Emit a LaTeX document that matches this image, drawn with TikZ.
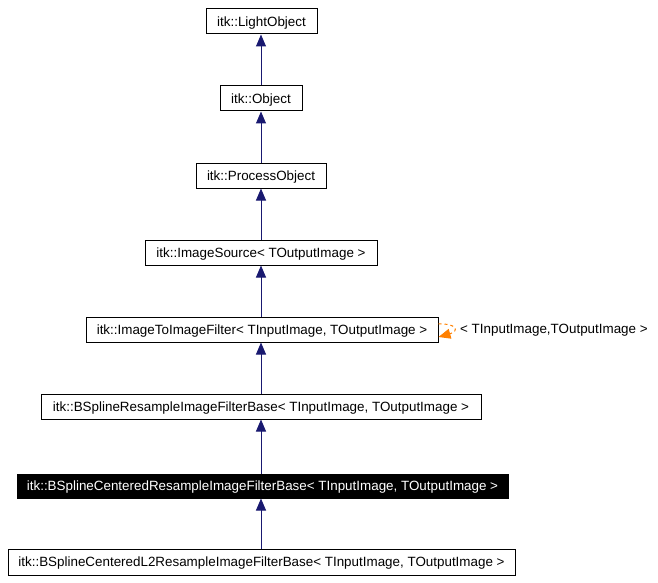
\documentclass[tikz,border=0pt]{standalone}
\usepackage{fontspec}
\setmainfont{Liberation Sans}
\usetikzlibrary{arrows.meta}
\begin{document}
\begin{tikzpicture}[x=1pt,y=-1pt,
  cls/.style={draw=black,fill=white,line width=1pt,inner sep=0pt,text height=9.6pt,text depth=0pt,font=\fontsize{13.4}{15}\selectfont,anchor=center},
  cur/.style={cls,fill=black,text=white},
  inh/.style={draw={rgb,255:red,25;green,25;blue,112},line width=1pt,-{Triangle[length=12pt,width=10pt,fill={rgb,255:red,25;green,25;blue,112}]}},
  tmpl/.style={draw=orange,dashed,line width=1pt,-{Triangle[length=12pt,width=10pt,fill=orange]}}]
\useasboundingbox (0,0) rectangle (658,583);
\node[cls,minimum width=111pt,minimum height=25pt] (lo) at (261.5,21.5) {itk::LightObject};
\node[cls,minimum width=82pt,minimum height=25pt] (ob) at (261,98.5) {itk::Object};
\node[cls,minimum width=130pt,minimum height=25pt] (po) at (261,175.5) {itk::ProcessObject};
\node[cls,minimum width=232pt,minimum height=25pt] (is) at (261,252.5) {itk::ImageSource< TOutputImage >};
\node[cls,minimum width=352pt,minimum height=25pt] (itf) at (262,329.5) {itk::ImageToImageFilter< TInputImage, TOutputImage >};
\node[cls,minimum width=440pt,minimum height=25pt] (bsr) at (261,406.5) {itk::BSplineResampleImageFilterBase< TInputImage, TOutputImage >};
\node[cur,minimum width=491pt,minimum height=24pt] (bsc) at (262.5,486) {itk::BSplineCenteredResampleImageFilterBase< TInputImage, TOutputImage >};
\node[cls,minimum width=507pt,minimum height=26pt] (l2) at (261.5,562) {itk::BSplineCenteredL2ResampleImageFilterBase< TInputImage, TOutputImage >};
\draw[inh] (ob.north -| 261,0) -- (lo.south -| 261,0);
\draw[inh] (po.north -| 261,0) -- (ob.south -| 261,0);
\draw[inh] (is.north -| 261,0) -- (po.south -| 261,0);
\draw[inh] (itf.north -| 261,0) -- (is.south -| 261,0);
\draw[inh] (bsr.north -| 261,0) -- (itf.south -| 261,0);
\draw[inh] (bsc.north -| 261,0) -- (bsr.south -| 261,0);
\draw[inh] (l2.north -| 261,0) -- (bsc.south -| 261,0);
\coordinate (la) at (itf.east |- 0,324);
\coordinate (lb) at (itf.east |- 0,337);
\node[font=\fontsize{13.4}{15}\selectfont,text height=9.6pt,text depth=0pt,anchor=west,inner sep=0pt] (lbl) at (460,329) {< TInputImage,TOutputImage >};
\draw[tmpl] (la) .. controls (456,323) and (460,331) .. (lb);
\end{tikzpicture}
\end{document}
